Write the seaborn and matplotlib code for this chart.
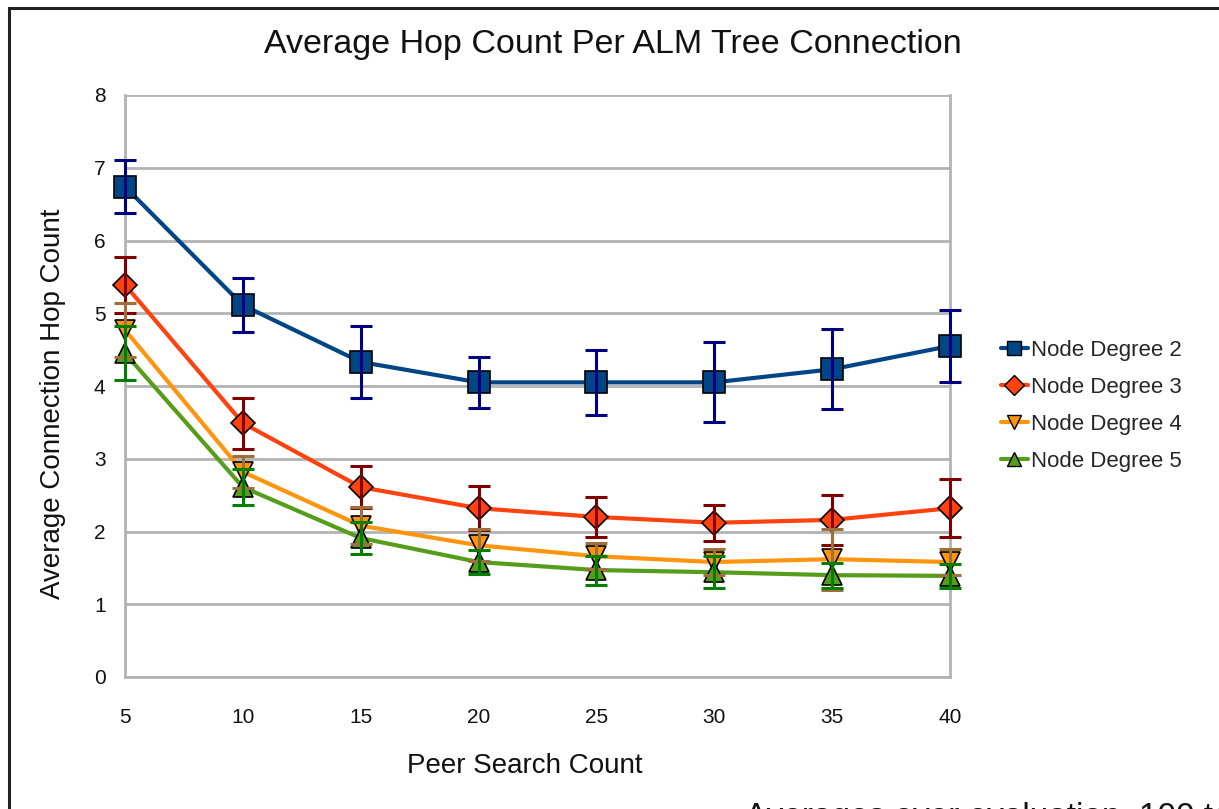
import pandas as pd
import matplotlib.pyplot as plt
import seaborn as sns
from matplotlib.lines import Line2D
from matplotlib.patches import Rectangle

# valeurs
peer_search = [5, 10, 15, 20, 25, 30, 35, 40]
series_names = ["Node Degree 2", "Node Degree 3", "Node Degree 4", "Node Degree 5"]

deg2 = [6.74, 5.11, 4.33, 4.05, 4.05, 4.05, 4.23, 4.55]
deg2_err = [0.36, 0.37, 0.50, 0.35, 0.45, 0.55, 0.55, 0.49]
deg3 = [5.39, 3.49, 2.61, 2.32, 2.20, 2.12, 2.16, 2.32]
deg3_err = [0.39, 0.35, 0.29, 0.30, 0.27, 0.25, 0.34, 0.40]
deg4 = [4.77, 2.82, 2.08, 1.81, 1.66, 1.58, 1.62, 1.58]
deg4_err = [0.37, 0.22, 0.25, 0.22, 0.18, 0.18, 0.42, 0.18]
deg5 = [4.45, 2.61, 1.91, 1.58, 1.47, 1.44, 1.40, 1.39]
deg5_err = [0.37, 0.25, 0.22, 0.17, 0.20, 0.22, 0.17, 0.17]

values = [deg2, deg3, deg4, deg5]
errors = [deg2_err, deg3_err, deg4_err, deg5_err]

line_colors = ["#004586", "#ff420e", "#ff950e", "#579d1c"]
err_colors = ["#000080", "#800000", "#a0703a", "#008000"]
markers = ["s", "D", "v", "^"]
msizes = [16, 12, 14, 14]

df = pd.DataFrame({
    "Peer Search Count": peer_search * 4,
    "Hop": deg2 + deg3 + deg4 + deg5,
    "Serie": [n for n in series_names for _ in peer_search],
})

sns.set_style("white")
plt.rcParams['font.family'] = ['Liberation Sans', 'DejaVu Sans']

fig = plt.figure(figsize=(12.19, 8.09), dpi=100)
ax = fig.add_axes([125 / 1219, 1 - 677 / 809, 825 / 1219, 582 / 809])

# cadre noir autour du graphique
fig.patches.append(Rectangle((9 / 1219, -0.05), 1.2, 1 - 8 / 809 + 0.05, transform=fig.transFigure,
                             fill=False, edgecolor="#222222", linewidth=2.2, zorder=0))

for i, name in enumerate(series_names):
    sub = df[df["Serie"] == name]
    sns.lineplot(data=sub, x="Peer Search Count", y="Hop", color=line_colors[i],
                 linewidth=3, marker=markers[i], markersize=msizes[i],
                 markerfacecolor=line_colors[i], markeredgecolor="black", markeredgewidth=1.2,
                 ax=ax, zorder=3 + i, legend=False, clip_on=False)
    ax.errorbar(peer_search, values[i], yerr=errors[i], fmt="none", ecolor=err_colors[i],
                elinewidth=2.2, capsize=8, capthick=2.2, zorder=10 + i, clip_on=False)

ax.set_xlim(5, 40)
ax.set_ylim(0, 8)
ax.set_xticks(peer_search)
ax.set_yticks(range(0, 9))
ax.grid(axis='y', color="#b3b3b3", linewidth=2)
for side in ["left", "right", "bottom", "top"]:
    ax.spines[side].set_color("#b3b3b3")
    ax.spines[side].set_linewidth(2)
ax.spines["top"].set_visible(False)
ax.tick_params(axis='both', direction='out', length=10, width=2, color="#b3b3b3",
               labelsize=15, labelcolor="#111111", pad=4)
ax.tick_params(axis='x', pad=12)

ax.set_xlabel("Peer Search Count", fontsize=20, color="#111111")
ax.set_ylabel("Average Connection Hop Count", fontsize=20, color="#111111")
ax.xaxis.set_label_coords(0.485, -0.13)
ax.yaxis.set_label_coords(-0.071, 0.47)

fig.text(613 / 1219, 1 - 45 / 809, "Average Hop Count Per ALM Tree Connection",
         ha="center", va="center", fontsize=24.5, color="#111111")

handles = [Line2D([0], [0], color=line_colors[i], linewidth=3, marker=markers[i],
                  markersize=10, markerfacecolor=line_colors[i], markeredgecolor="black")
           for i in range(4)]
fig.legend(handles, series_names, loc="center left", bbox_to_anchor=(981 / 1219, 1 - 406 / 809),
           frameon=False, fontsize=16, handlelength=1.2, handletextpad=0.15, labelspacing=0.72)

fig.text(745 / 1219, 1 - 802 / 809, "Averages over evaluation, 100 tests",
         ha="left", va="top", fontsize=24, color="#111111")

fig.savefig("out.png", dpi=100)
